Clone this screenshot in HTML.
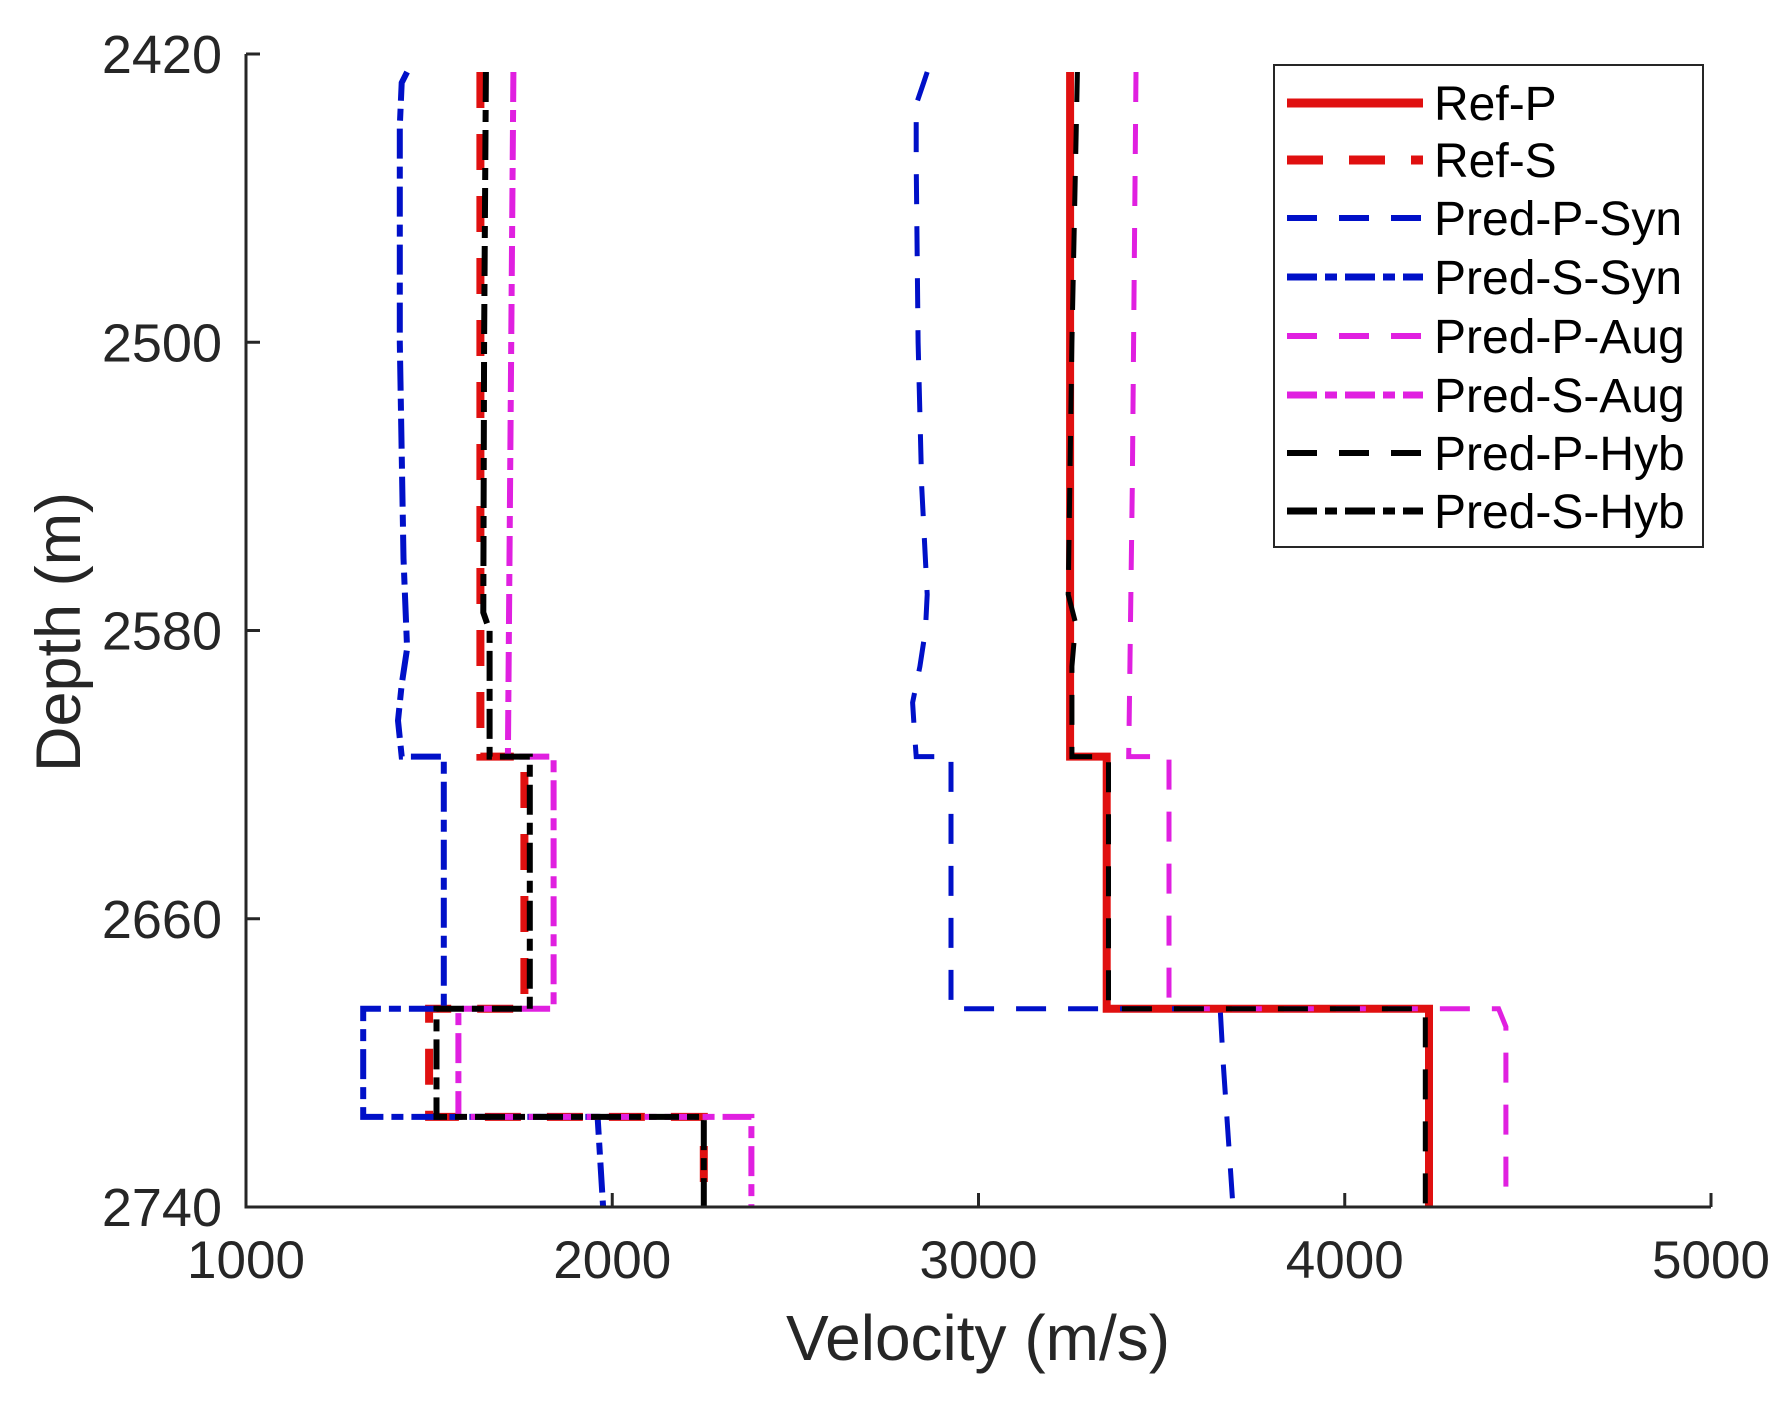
<!DOCTYPE html>
<html><head><meta charset="utf-8">
<style>
html,body{margin:0;padding:0;background:#fff;}
svg{display:block;font-family:"Liberation Sans",Arial,sans-serif;}
</style></head>
<body>
<svg id="chart" width="1790" height="1401" viewBox="0 0 1790 1401">
  <g id="series"></g>
  <g id="axes"></g>
  <g id="legend"></g>
</svg>
<script>
// ---- data ----
const xTicks = [1000, 2000, 3000, 4000, 5000];
const yTicks = [2420, 2500, 2580, 2660, 2740];
const seriesNames = ["Ref-P","Ref-S","Pred-P-Syn","Pred-S-Syn","Pred-P-Aug","Pred-S-Aug","Pred-P-Hyb","Pred-S-Hyb"];
const refPDepth = [2425,2615,2615,2685,2685,2740];
const refPVel   = [3250,3250,3350,3350,4230,4230];
const refSDepth = [2425,2615,2615,2685,2685,2715,2715,2740];
const refSVel   = [1640,1640,1760,1760,1500,1500,2250,2250];
const pSynDepth = [2425,2428,2434,2450,2500,2540,2570,2580,2590,2600,2608,2615,2615,2685,2685,2700,2740];
const pSynVel   = [2860,2850,2830,2830,2835,2845,2860,2855,2840,2820,2825,2830,2925,2925,3660,3668,3695];
const sSynDepth = [2425,2428,2440,2500,2560,2585,2595,2605,2615,2615,2685,2685,2715,2715,2740];
const sSynVel   = [1440,1425,1420,1420,1430,1440,1425,1415,1425,1540,1540,1320,1320,1960,1975];
const pAugDepth = [2425,2540,2615,2615,2685,2685,2690,2740];
const pAugVel   = [3430,3420,3410,3520,3520,4420,4440,4440];
const sAugDepth = [2425,2615,2615,2685,2685,2715,2715,2740];
const sAugVel   = [1730,1715,1840,1840,1580,1580,2380,2380];
const pHybDepth = [2425,2500,2570,2578,2590,2615,2615,2685,2685,2740];
const pHybVel   = [3270,3255,3245,3265,3255,3255,3355,3355,4220,4220];
const sHybDepth = [2425,2500,2575,2580,2615,2615,2685,2685,2715,2715,2740];
const sHybVel   = [1655,1650,1648,1665,1665,1775,1775,1520,1520,2250,2250];

// ---- layout ----
const X0=246, X1=1711, Y0=54, Y1=1207;
const xMin=1000, xMax=5000, yMin=2420, yMax=2740;
const sx = v => X0 + (v-xMin)/(xMax-xMin)*(X1-X0);
const sy = d => Y0 + (d-yMin)/(yMax-yMin)*(Y1-Y0);
const NS="http://www.w3.org/2000/svg";
function mk(tag, attrs, parent){const e=document.createElementNS(NS,tag);for(const k in attrs)e.setAttribute(k,attrs[k]);parent.appendChild(e);return e;}

const styles = [
 {c:"#e01010", w:8, d:""},
 {c:"#e01010", w:8, d:"36 26"},
 {c:"#0010c8", w:5, d:"30 22"},
 {c:"#0010c8", w:6, d:"30 8 12 8"},
 {c:"#e020e0", w:5, d:"30 22"},
 {c:"#e020e0", w:6, d:"30 8 12 8"},
 {c:"#000000", w:5, d:"30 22"},
 {c:"#000000", w:6, d:"30 8 12 8"}
];
const depths = [refPDepth,refSDepth,pSynDepth,sSynDepth,pAugDepth,sAugDepth,pHybDepth,sHybDepth];
const vels   = [refPVel,refSVel,pSynVel,sSynVel,pAugVel,sAugVel,pHybVel,sHybVel];
const slugs = ["ref-p","ref-s","pred-p-syn","pred-s-syn","pred-p-aug","pred-s-aug","pred-p-hyb","pred-s-hyb"];

const gS=document.getElementById("series");
for(let i=0;i<seriesNames.length;i++){
  const pts=depths[i].map((d,j)=>sx(vels[i][j]).toFixed(1)+","+sy(d).toFixed(1)).join(" ");
  const p=mk("polyline",{points:pts,fill:"none",stroke:styles[i].c,"stroke-width":styles[i].w,"stroke-dasharray":styles[i].d,"stroke-linejoin":"miter"},gS);
  
  
}

// ---- axes ----
const gA=document.getElementById("axes");
const ax=mk("path",{d:`M${X0},${Y0} L${X0},${Y1} L${X1},${Y1}`,fill:"none",stroke:"#262626","stroke-width":3},gA);


xTicks.forEach(v=>{
  const t=mk("line",{x1:sx(v),x2:sx(v),y1:Y1,y2:Y1-14,stroke:"#262626","stroke-width":3},gA);
  
  
  const l=mk("text",{x:sx(v),y:1278,"text-anchor":"middle","font-size":53,fill:"#262626"},gA);
  l.textContent=v;
  
  
});
yTicks.forEach(v=>{
  const t=mk("line",{x1:X0,x2:X0+14,y1:sy(v),y2:sy(v),stroke:"#262626","stroke-width":3},gA);
  
  
  const l=mk("text",{x:222,y:sy(v)+19,"text-anchor":"end","font-size":54,fill:"#262626"},gA);
  l.textContent=v;
  
  
});
const xt=mk("text",{x:978,y:1360,"text-anchor":"middle","font-size":64,fill:"#262626"},gA);
xt.textContent="Velocity (m/s)";


const yt=mk("text",{x:0,y:0,"text-anchor":"middle","font-size":63,fill:"#262626",transform:"translate(80,632) rotate(-90)"},gA);
yt.textContent="Depth (m)";



// ---- legend ----
const gL=document.getElementById("legend");
const lb=mk("rect",{x:1274,y:65,width:429,height:482,fill:"#fff",stroke:"#262626","stroke-width":2},gL);


const rowY=[103,160,218,277,336,395,453,511];
for(let i=0;i<seriesNames.length;i++){
  const y=rowY[i];
  const ln=mk("line",{x1:1287,x2:1423,y1:y,y2:y,stroke:styles[i].c,"stroke-width":styles[i].w+1,"stroke-dasharray":styles[i].d},gL);
  
  
  const tx=mk("text",{x:1434,y:y+17,"font-size":48,fill:"#000"},gL);
  tx.textContent=seriesNames[i];
  
  
}
</script>
</body></html>
